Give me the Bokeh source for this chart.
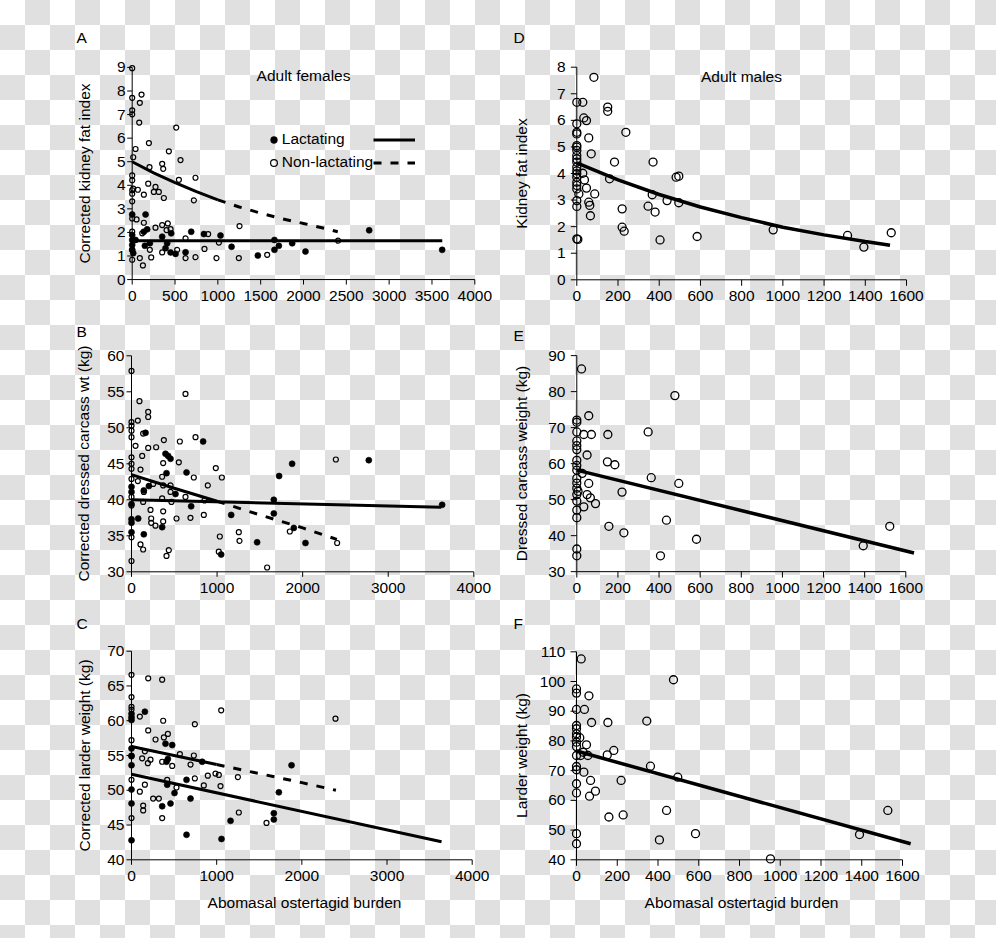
from bokeh.plotting import figure
from bokeh.models import Range1d, FixedTicker, Label, Legend, LegendItem, Title
from bokeh.layouts import row, column
from bokeh.embed import file_html
from bokeh.resources import INLINE

FONT = "Liberation Sans"
FS = "15.5px"

# ---------------- Panel A: corrected kidney fat index (adult females)
a_lac_x = [0, 156, 175, 136, 350, 455, 689, 837, 1031, 2767, 3619, 1467, 1661, 1712, 1868, 2023, 1160, 623, 506, 448,
           148, 408, 0, 0, 0, 0, 12, 1661, 389, 206, 39]
a_lac_y = [2.76, 2.76, 2.13, 2.03, 1.82, 1.96, 2.03, 1.93, 1.87, 2.09, 1.26, 1.02, 1.26, 1.43, 1.54, 1.19, 1.39, 1.16, 1.09, 1.15,
           1.43, 1.54, 1.89, 1.68, 1.47, 1.26, 1.12, 1.68, 1.33, 1.54, 1.68]
a_non_x = [0, 0, 0, 0, 109, 89, 82, 39, 12, 195, 514, 428, 564, 350, 362, 202, 545, 739, 0, 0,
           0, 0, 12, 66, 187, 272, 311, 253, 136, 370, 720, 0, 0, 51, 136, 272, 350, 416, 448, 401,
           117, 0, 1253, 887, 623, 1012, 2405, 844, 1576, 623, 739, 984, 1245, 89, 222, 125, 0, 206, 350, 525, 0]
a_non_y = [8.97, 7.71, 7.18, 7.01, 7.85, 7.50, 6.66, 5.54, 5.19, 5.79, 6.45, 5.44, 5.07, 4.91, 4.70, 4.77, 4.23, 4.32, 4.42, 4.21,
           3.79, 3.64, 3.86, 3.81, 4.07, 3.93, 3.72, 3.72, 3.60, 3.46, 3.36, 3.32, 2.59, 2.55, 2.41, 2.20, 2.31, 2.38, 2.14, 2.10,
           1.96, 2.03, 2.27, 1.93, 1.75, 1.57, 1.65, 1.30, 1.05, 0.91, 0.95, 0.91, 0.91, 0.91, 0.94, 0.60, 0.84, 1.26, 1.15, 1.26, 1.26]
a_fit_lac_x = [0, 3620]
a_fit_lac_y = [1.65, 1.65]
a_fit_non_x = [0, 250, 500, 750, 1000, 1250, 1500, 1750, 2000, 2250, 2400]
a_fit_non_y = [5.0, 4.53, 4.11, 3.73, 3.38, 3.08, 2.82, 2.58, 2.38, 2.17, 2.03]

# ---------------- Panel B: corrected dressed carcass wt
b_lac_x = [164, 837, 397, 428, 456, 2773, 1877, 409, 643, 1725, 0, 203, 514, 0, 144, 1663, 697, 1165, 1663, 1897,
           0, 78, 0, 358, 0, 144, 1468, 2033, 1048, 3630, 0]
b_lac_y = [49.3, 48.1, 46.4, 46.1, 45.7, 45.5, 45.0, 43.7, 43.8, 43.3, 41.8, 41.9, 40.8, 41.1, 41.3, 40.0, 39.1, 37.9, 38.1, 36.1,
           37.3, 37.4, 36.8, 36.2, 35.5, 35.2, 34.1, 34.0, 32.4, 39.3, 39.4]
b_non_x = [0, 93, 631, 195, 195, 74, 0, 0, 0, 0, 136, 378, 565, 748, 47, 195, 288, 0, 125, 0,
           370, 553, 2388, 0, 105, 985, 1056, 728, 358, 74, 0, 253, 370, 456, 892, 144, 456, 0, 358, 631,
           853, 467, 136, 0, 222, 370, 845, 526, 689, 230, 230, 280, 370, 0, 105, 136, 436, 409, 1032, 1254,
           1262, 1020, 1585, 1850, 2403, 0]
b_non_y = [57.9, 53.7, 54.7, 52.2, 51.5, 51.0, 50.8, 50.3, 49.6, 48.7, 49.2, 48.3, 48.1, 48.7, 47.5, 47.2, 47.3, 45.9, 46.1, 45.0,
           45.1, 45.2, 45.6, 44.3, 44.2, 44.4, 43.1, 43.1, 43.2, 42.6, 42.9, 42.2, 42.0, 42.0, 42.0, 41.1, 41.1, 40.4, 40.2, 40.4,
           39.9, 39.7, 39.7, 39.2, 38.6, 38.4, 37.9, 37.4, 37.5, 37.4, 36.8, 36.4, 37.0, 34.8, 33.8, 33.1, 33.0, 32.2, 34.9, 35.5,
           34.3, 32.8, 30.6, 35.6, 34.0, 31.5]
b_fit_lac_x = [0, 3620]
b_fit_lac_y = [40.0, 38.95]
b_fit_non_x = [0, 500, 1000, 1500, 2000, 2400]
b_fit_non_y = [43.5, 41.6, 39.8, 37.9, 36.1, 34.5]

# ---------------- Panel C: corrected larder weight
c_lac_x = [157, 0, 0, 0, 399, 478, 0, 0, 427, 411, 830, 0, 1879, 419, 646, 0, 505, 1730, 693, 360,
           458, 0, 1671, 1671, 1163, 646, 1057, 0]
c_lac_y = [61.3, 61.0, 60.5, 60.1, 56.7, 56.5, 56.0, 54.9, 54.5, 54.1, 54.1, 53.6, 53.6, 50.8, 51.5, 50.1, 49.6, 49.7, 48.8, 47.7,
           48.1, 48.1, 46.7, 45.8, 45.6, 43.6, 43.0, 42.8]
c_non_x = [0, 196, 360, 0, 0, 0, 98, 1053, 2395, 372, 744, 196, 427, 380, 282, 0, 0, 568, 732, 157,
           125, 223, 192, 360, 478, 693, 0, 419, 744, 896, 986, 1025, 1249, 157, 849, 1045, 528, 98, 254, 321,
           137, 137, 1260, 360, 0, 1585]
c_non_y = [66.6, 66.1, 65.9, 63.4, 62.0, 61.6, 60.6, 61.5, 60.3, 60.0, 59.5, 58.6, 58.1, 57.6, 57.3, 57.2, 55.0, 55.2, 55.0, 55.6,
           54.6, 54.4, 53.9, 54.1, 53.5, 53.7, 51.5, 51.5, 51.7, 52.1, 52.4, 52.2, 51.9, 50.8, 50.7, 50.6, 50.4, 49.8, 48.8, 48.8,
           47.8, 47.1, 46.8, 46.0, 46.0, 45.3]
c_fit_lac_x = [0, 3640]
c_fit_lac_y = [52.3, 42.6]
c_fit_non_x = [0, 500, 1000, 1500, 2000, 2400]
c_fit_non_y = [56.3, 55.0, 53.7, 52.4, 51.1, 50.0]

# ---------------- Panel D: kidney fat index (adult males)
d_x = [83, 0, 29, 150, 150, 34, 47, 0, 0, 0, 238, 58, 0, 0, 0, 0, 70, 0, 183, 370,
       482, 495, 0, 0, 29, 0, 37, 159, 0, 0, 47, 10, 87, 366, 0, 58, 63, 438, 495, 346,
       0, 220, 380, 66, 220, 230, 0, 404, 584, 953, 1314, 1393, 1526, 0, 0, 0, 5]
d_y = [7.62, 6.68, 6.68, 6.50, 6.34, 6.09, 5.99, 5.87, 5.55, 5.49, 5.55, 5.34, 4.99, 4.87, 4.68, 4.55, 4.74, 4.43, 4.43, 4.43,
       3.86, 3.90, 4.24, 3.99, 4.01, 3.86, 3.76, 3.80, 3.67, 3.42, 3.45, 3.23, 3.23, 3.20, 2.98, 2.92, 2.80, 2.98, 2.90, 2.77,
       2.76, 2.67, 2.55, 2.41, 1.98, 1.83, 1.54, 1.50, 1.63, 1.88, 1.67, 1.23, 1.77, 5.05, 4.10, 3.55, 1.52]
d_fit_x = [0, 200, 400, 600, 800, 1000, 1200, 1400, 1520]
d_fit_y = [4.40, 3.76, 3.21, 2.74, 2.34, 1.98, 1.69, 1.44, 1.30]

# ---------------- Panel E: dressed carcass weight (males)
e_x = [23, 477, 58, 0, 0, 0, 34, 71, 151, 347, 0, 0, 0, 50, 0, 149, 185, 0, 0, 26,
       0, 362, 0, 58, 496, 0, 6, 220, 0, 50, 66, 0, 91, 34, 0, 0, 436, 156, 1522, 229,
       582, 1393, 0, 0, 407]
e_y = [86.3, 78.9, 73.3, 72.1, 71.5, 68.8, 68.1, 68.1, 68.1, 68.8, 66.3, 65.0, 63.9, 62.4, 60.9, 60.5, 59.7, 59.5, 58.2, 57.3,
       55.9, 56.1, 54.6, 54.5, 54.5, 53.2, 52.3, 52.1, 51.4, 51.4, 50.5, 49.6, 48.9, 48.0, 47.1, 45.0, 44.3, 42.6, 42.6, 40.8,
       39.0, 37.2, 36.3, 34.4, 34.4]
e_fit_x = [0, 1640]
e_fit_y = [58.2, 35.2]

# ---------------- Panel F: larder weight (males)
f_x = [23, 476, 0, 0, 61, 0, 39, 345, 74, 154, 0, 0, 0, 0, 16, 0, 49, 0, 183, 33,
       56, 151, 20, 0, 363, 0, 0, 36, 497, 69, 219, 0, 93, 0, 64, 442, 1528, 229, 159, 0,
       584, 1389, 407, 0, 952]
f_y = [107.6, 100.6, 97.5, 96.1, 95.2, 90.6, 90.6, 86.7, 86.2, 86.2, 85.2, 84.1, 82.4, 81.3, 81.1, 79.6, 78.7, 78.1, 76.8, 76.2,
       75.1, 75.3, 75.1, 75.1, 71.5, 71.4, 70.3, 69.5, 67.8, 66.7, 66.7, 65.6, 63.1, 62.5, 61.4, 56.6, 56.6, 55.1, 54.4, 48.8,
       48.8, 48.5, 46.7, 45.4, 40.3]
f_fit_x = [0, 1640]
f_fit_y = [76.6, 45.4]

x_ticks_a = [0, 500, 1000, 1500, 2000, 2500, 3000, 3500, 4000]
x_ticks_bc = [0, 1000, 2000, 3000, 4000]
x_ticks_m = [0, 200, 400, 600, 800, 1000, 1200, 1400, 1600]
y_ticks_a = list(range(0, 10))
y_ticks_b = [30, 35, 40, 45, 50, 55, 60]
y_ticks_c = [40, 45, 50, 55, 60, 65, 70]
y_ticks_d = list(range(0, 9))
y_ticks_e = [30, 40, 50, 60, 70, 80, 90]
y_ticks_f = [40, 50, 60, 70, 80, 90, 100, 110]

titles = {"A": "Adult females", "D": "Adult males"}
y_labels = {"A": "Corrected kidney fat index", "B": "Corrected dressed carcass wt (kg)",
            "C": "Corrected larder weight (kg)", "D": "Kidney fat index",
            "E": "Dressed carcass weight (kg)", "F": "Larder weight (kg)"}
x_label = "Abomasal ostertagid burden"


def build(fig_rect, xpx, ypx, xv, yv, xticks, yticks, tick_len, pad_l, ystd, ylabel, ylab_so,
          letter, letter_px, xlabel=None, xlab_so=10):
    fl, ft, fr, fb = fig_rect
    px0, px1 = xpx
    py0, py1 = ypx          # py0: pixel of yv[0] (bottom), py1: pixel of yv[1] (top)
    L = round(px0 - pad_l); R = round(px1 + 12); T = round(py1 - 8); B = round(py0 + 8)
    sx = (xv[1] - xv[0]) / (px1 - px0)
    sy = (yv[1] - yv[0]) / (py0 - py1)
    xr = Range1d(xv[0] + (L - px0) * sx, xv[0] + (R - px0) * sx)
    yr = Range1d(yv[0] + (py0 - B) * sy, yv[0] + (py0 - T) * sy)
    p = figure(width=fr - fl, height=fb - ft,
               min_border_left=L - fl, min_border_right=fr - R,
               min_border_top=T - ft, min_border_bottom=fb - B,
               x_range=xr, y_range=yr, output_backend="svg", toolbar_location=None,
               background_fill_color=None, border_fill_color=None, outline_line_color=None)
    p.grid.visible = False
    for ax in (p.xaxis[0], p.yaxis[0]):
        ax.axis_line_color = None
        ax.major_tick_line_color = None
        ax.major_tick_out = 0
        ax.major_tick_in = 0
        ax.minor_tick_out = 0
        ax.minor_tick_in = 0
        ax.major_label_text_font = FONT
        ax.major_label_text_font_size = FS
        ax.major_label_text_color = "black"
        ax.axis_label_text_font = FONT
        ax.axis_label_text_font_size = FS
        ax.axis_label_text_font_style = "normal"
        ax.axis_label_text_color = "black"
    xa, ya = p.xaxis[0], p.yaxis[0]
    xa.ticker = FixedTicker(ticks=xticks)
    ya.ticker = FixedTicker(ticks=yticks)
    ya.major_label_standoff = ystd
    xa.major_label_standoff = 3
    ya.axis_label = ylabel
    ya.axis_label_standoff = ylab_so
    if xlabel:
        xa.axis_label = xlabel
        xa.axis_label_standoff = xlab_so

    # axis lines and tick marks, placed at the data origin (points on the axes stay whole)
    tx = tick_len * sx
    ty = tick_len * sy
    p.line([xv[0], xv[0]], [yticks[0], yticks[-1]], line_color="black", line_width=1)
    p.line([xticks[0], xticks[-1]], [yv[0], yv[0]], line_color="black", line_width=1)
    p.segment(x0=[xv[0]] * len(yticks), y0=yticks, x1=[xv[0] - tx] * len(yticks), y1=yticks,
              line_color="black", line_width=1)
    p.segment(x0=xticks, y0=[yv[0]] * len(xticks), x1=xticks, y1=[yv[0] - ty] * len(xticks),
              line_color="black", line_width=1)

    # panel letter as a title above the frame
    lx, ly = letter_px
    p.add_layout(Title(text=letter, align="left", offset=lx - L,
                       standoff=max(round(2 * (T - ly - 6.5)), 0),
                       text_font=FONT, text_font_size=FS, text_font_style="normal",
                       text_color="black", vertical_align="bottom"), "above")

    def to_data(px, py):
        return xv[0] + (px - px0) * sx, yv[0] + (py0 - py) * sy
    return p, to_data, (L, B)


def add_text(p, to_data, px, py, text, align="left"):
    x, y = to_data(px, py)
    p.add_layout(Label(x=x, y=y, text=text, text_font=FONT, text_font_size=FS,
                       text_color="black", text_align=align, text_baseline="middle"))


def small_points(p, xs, ys, filled):
    if filled:
        return p.scatter(xs, ys, marker="circle", size=6, fill_color="black", line_color="black", line_width=0.6)
    return p.scatter(xs, ys, marker="circle", size=5, fill_color=None, line_color="black", line_width=1.2)


def big_points(p, xs, ys):
    return p.scatter(xs, ys, marker="circle", size=8, fill_color=None, line_color="black", line_width=1.3)


def dashed_fit(p, xs, ys, n_solid, width=3):
    p.line(xs[:n_solid], ys[:n_solid], line_color="black", line_width=width)
    return p.line(xs[n_solid - 1:], ys[n_solid - 1:], line_color="black", line_width=width, line_dash="8 9")


# Figure rectangles in page coordinates (left, top, right, bottom)
RA = (0, 0, 495, 310); RD = (495, 0, 996, 310)
RB = (0, 310, 495, 601); RE = (495, 310, 996, 601)
RC = (0, 601, 495, 938); RF = (495, 601, 996, 938)

# ---- A
pA, tA, (LA, BA) = build(RA, (131.7, 474.3), (280, 66), (0, 4000), (0, 9), x_ticks_a, y_ticks_a, 5, 7, 0,
                         y_labels["A"], 21, "A", (76, 38))
rA_non = small_points(pA, a_non_x, a_non_y, False)
rA_lac = small_points(pA, a_lac_x, a_lac_y, True)
lA_lac = pA.line(a_fit_lac_x, a_fit_lac_y, line_color="black", line_width=3)
lA_non = dashed_fit(pA, a_fit_non_x, a_fit_non_y, 5)
add_text(pA, tA, 303, 74, titles["A"], "center")
leg1 = Legend(items=[LegendItem(label="Lactating", renderers=[rA_lac]),
                     LegendItem(label="Non-lactating", renderers=[rA_non])],
              location=(264.8 - LA, BA - 173), glyph_width=17, glyph_height=17, label_standoff=0,
              padding=0, spacing=3, margin=0, label_height=20,
              label_text_font=FONT, label_text_font_size=FS, label_text_color="black",
              background_fill_alpha=0, border_line_alpha=0)
leg2 = Legend(items=[LegendItem(label=" ", renderers=[lA_lac]),
                     LegendItem(label=" ", renderers=[lA_non])],
              location=(373 - LA, BA - 173), glyph_width=42, glyph_height=17, label_standoff=0,
              padding=0, spacing=3, margin=0, label_height=20,
              label_text_font=FONT, label_text_font_size=FS,
              background_fill_alpha=0, border_line_alpha=0)
pA.add_layout(leg1)
pA.add_layout(leg2)

# ---- D
pD, tD, _ = build(RD, (576.3, 906), (279.3, 66.7), (0, 1600), (0, 8), x_ticks_m, y_ticks_d, 6, 8, 3,
                  y_labels["D"], 24, "D", (513, 39))
big_points(pD, d_x, d_y)
pD.line(d_fit_x, d_fit_y, line_color="black", line_width=3.5)
add_text(pD, tD, 741, 76, titles["D"], "center")

# ---- B
pB, tB, _ = build(RB, (131, 473.3), (571.3, 355.3), (0, 4000), (30, 60), x_ticks_bc, y_ticks_b, 5, 7, 0,
                  y_labels["B"], 12, "B", (76, 333))
small_points(pB, b_non_x, b_non_y, False)
small_points(pB, b_lac_x, b_lac_y, True)
pB.line(b_fit_lac_x, b_fit_lac_y, line_color="black", line_width=3)
dashed_fit(pB, b_fit_non_x, b_fit_non_y, 3)

# ---- E
pE, tE, _ = build(RE, (576.3, 905.3), (572, 351.3), (0, 1600), (30, 90), x_ticks_m, y_ticks_e, 6, 8, 3,
                  y_labels["E"], 15, "E", (513, 333))
big_points(pE, e_x, e_y)
pE.line(e_fit_x, e_fit_y, line_color="black", line_width=3.5)

# ---- C
pC, tC, _ = build(RC, (131, 471.7), (859.3, 650.7), (0, 4000), (40, 70), x_ticks_bc, y_ticks_c, 5, 7, 0,
                  y_labels["C"], 11, "C", (76, 625), x_label, 10)
small_points(pC, c_non_x, c_non_y, False)
small_points(pC, c_lac_x, c_lac_y, True)
pC.line(c_fit_lac_x, c_fit_lac_y, line_color="black", line_width=3)
dashed_fit(pC, c_fit_non_x, c_fit_non_y, 3)

# ---- F
pF, tF, _ = build(RF, (576, 902), (859.3, 651.3), (0, 1600), (40, 110), x_ticks_m, y_ticks_f, 6, 8, 3,
                  y_labels["F"], 7, "F", (513, 625), x_label, 10)
big_points(pF, f_x, f_y)
pF.line(f_fit_x, f_fit_y, line_color="black", line_width=3.5)

layout = column(row(pA, pD), row(pB, pE), row(pC, pF),
                styles={"background-image": "repeating-conic-gradient(#e0e0e0 0% 25%, #ffffff 0% 50%)",
                        "background-size": "50px 50px",
                        "background-position": "0px 0px"})

open("out.html", "w").write(file_html(layout, INLINE))
